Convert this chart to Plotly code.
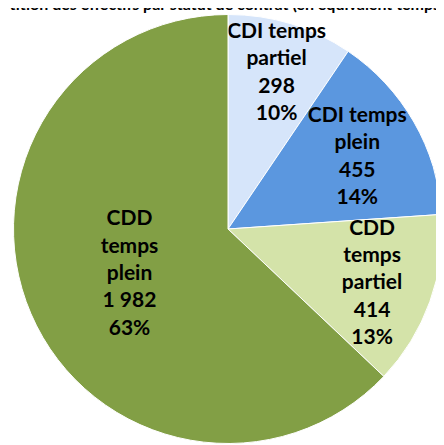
import plotly.graph_objects as go

# données (ETP)
categories = ['CDI temps partiel', 'CDI temps plein', 'CDD temps partiel', 'CDD temps plein']
label_lines = ['CDI temps<br>partiel', 'CDI temps<br>plein', 'CDD<br>temps<br>partiel', 'CDD<br>temps<br>plein']
valeurs = [298, 455, 414, 1982]
pourcentages = [10, 14, 13, 63]  # tels qu'affichés sur le graphique
couleurs = ['#D6E5FA', '#5B97DF', '#D4E3A9', '#829F45']

TITRE = 'Répartition des effectifs par statut de contrat (en équivalent temps plein)'


def fmt(v):
    return f"{v:,}".replace(',', ' ')


textes = [f"<b>{l}<br>{fmt(v)}<br>{p}%</b>"
          for l, v, p in zip(label_lines, valeurs, pourcentages)]

fig = go.Figure(go.Pie(
    labels=categories,
    values=valeurs,
    text=textes,
    textinfo='text',
    textposition='inside',
    insidetextorientation='horizontal',
    sort=False,
    direction='clockwise',
    rotation=0,
    marker=dict(colors=couleurs, line=dict(color='white', width=1)),
    textfont=dict(family='Lato', size=21, color='black'),
    # la page ajoute une marge de 8px autour du graphique
    domain=dict(x=[0.0124, 0.9786], y=[0.0213, 0.9854]),
    hoverinfo='label+value',
))

# titre coupé en haut, comme sur l'image d'origine
fig.add_annotation(
    text=f"<b>{TITRE}</b>", xref='paper', yref='paper',
    x=0.49, y=1.0, xanchor='center', yanchor='middle', yshift=5,
    showarrow=False, font=dict(family='Lato', size=16, color='black'),
)

fig.update_layout(
    width=444, height=445,
    margin=dict(l=0, r=0, t=0, b=0),
    showlegend=False,
    paper_bgcolor='white',
    uniformtext=dict(minsize=21, mode='show'),
)

fig.write_html("out.html")
